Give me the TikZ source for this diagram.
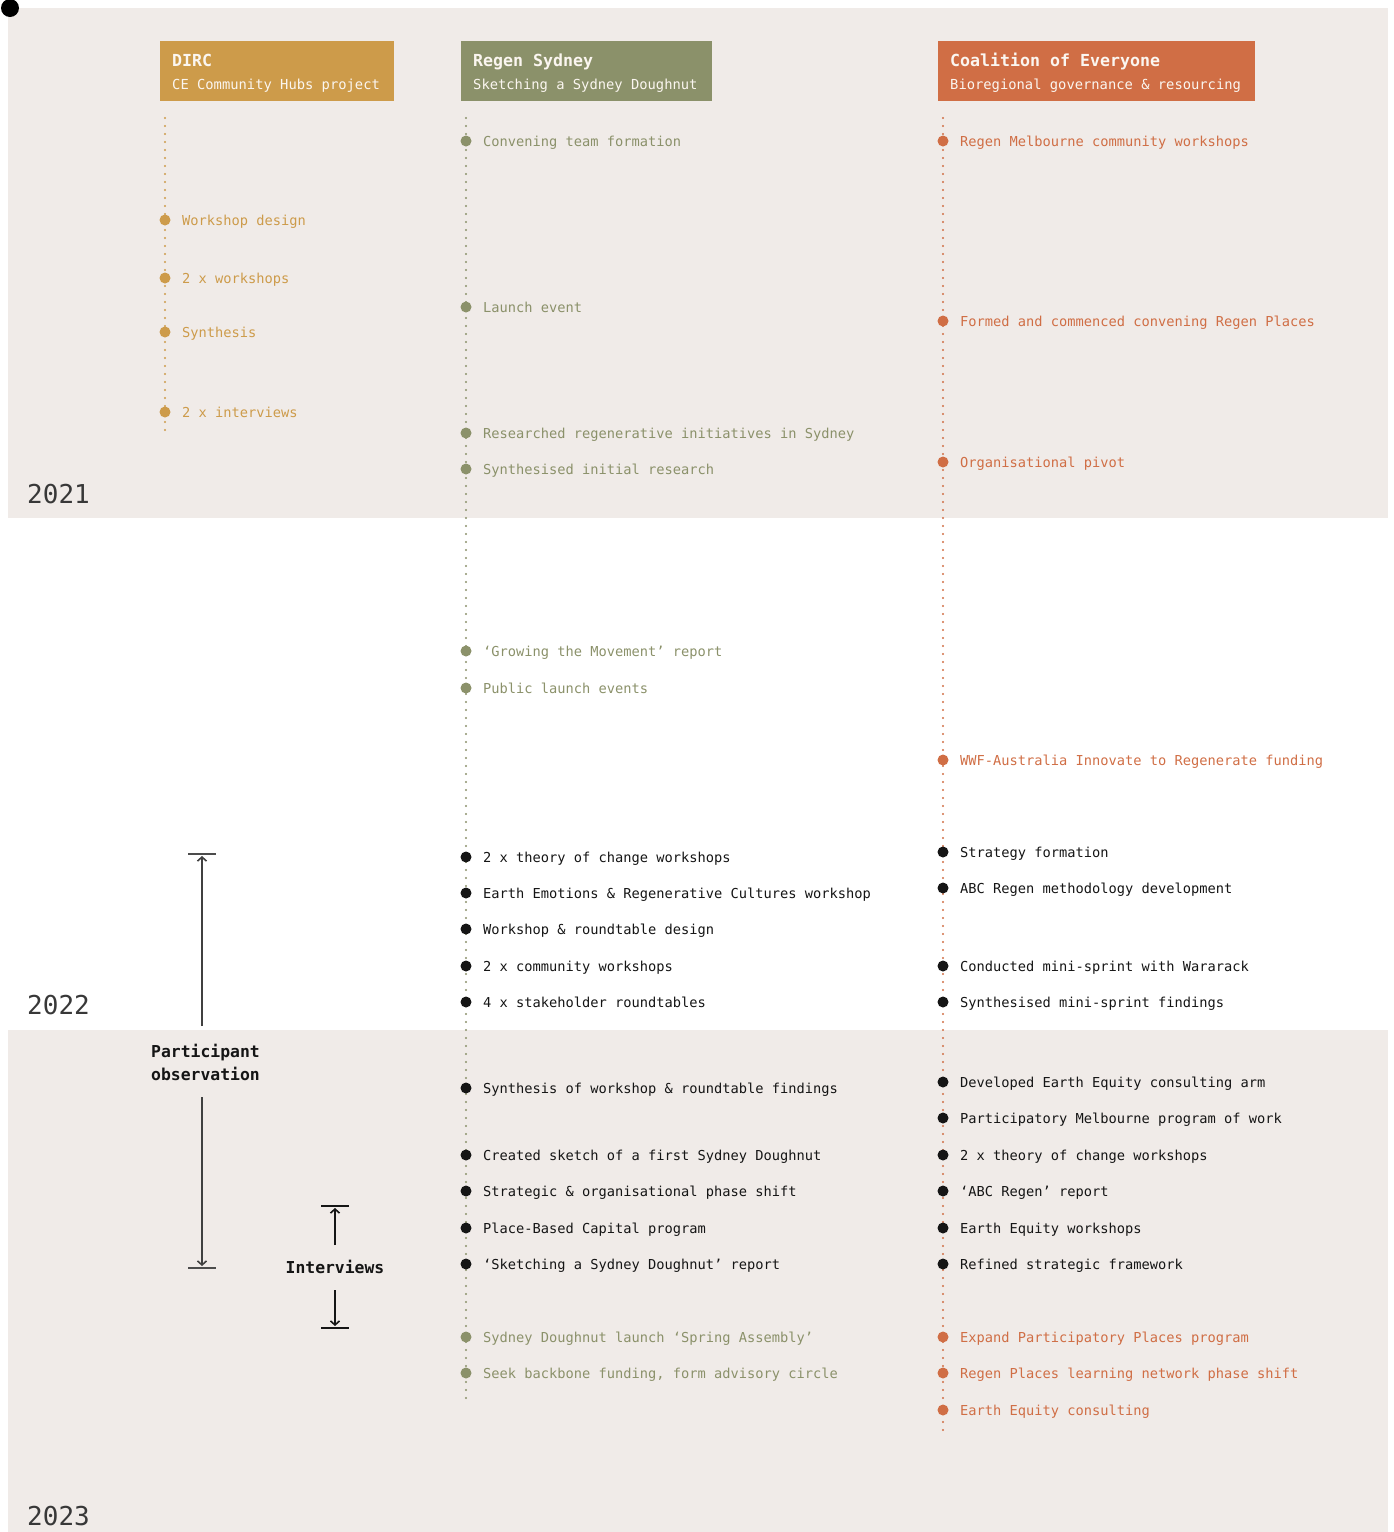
\documentclass[tikz,border=0pt]{standalone}
\usepackage{fontspec}
\setmainfont{DejaVu Sans Mono}
\setmonofont{DejaVu Sans Mono}
\usetikzlibrary{arrows.meta}

\definecolor{paper}{HTML}{F0EBE8}
\definecolor{gold}{HTML}{CD9B4A}
\definecolor{sage}{HTML}{8B916A}
\definecolor{rust}{HTML}{D06E45}
\definecolor{ink}{HTML}{151515}
\definecolor{headtext}{HTML}{FBF6F0}

\tikzset{
  headbox/.style={draw=none, inner sep=0pt, anchor=north west, minimum height=60pt},
  headtitle/.style={anchor=base west, inner sep=0pt, text=headtext, font=\fontsize{16.6}{18}\selectfont\bfseries},
  headsub/.style={anchor=base west, inner sep=0pt, text=headtext, font=\fontsize{13.8}{16}\selectfont},
  dotline/.style={line width=2.4pt, line cap=round, dash pattern=on 0pt off 8pt},
  evdot/.style={circle, inner sep=0pt, minimum size=11pt, draw=none},
  evlabel/.style={anchor=base west, inner sep=0pt, font=\fontsize{13.7}{16}\selectfont},
  yearlabel/.style={anchor=base west, inner sep=0pt, text=ink!85, font=\fontsize{26}{30}\selectfont},
  methodlabel/.style={inner sep=0pt, text=ink, align=left, font=\fontsize{16.4}{23}\selectfont\bfseries},
  bracketbar/.style={line width=1.2pt, draw=black!70},
  bracketarrow/.style={line width=1.2pt, draw=black!75, -{Straight Barb[length=4pt,width=9pt,line width=1.6pt]}},
}

\begin{document}
\begin{tikzpicture}[x=1pt,y=-1pt]
\useasboundingbox (0,0) rectangle (1394,1532);

% year bands
\fill[paper] (8,8) rectangle (1388,518);
\fill[paper] (8,1030) rectangle (1388,1532);
\fill[black] (10,8) circle (9);

% year labels
\node[yearlabel] (y2021) at (27,503) {2021};
\node[yearlabel] (y2022) at (27,1014) {2022};
\node[yearlabel] (y2023) at (27,1525) {2023};

% column headers
\node[headbox, fill=gold, minimum width=234pt] (hdirc) at (160,41) {};
\node[headtitle] (hdircT) at (172,66) {DIRC};
\node[headsub] (hdircS) at (172,89) {CE Community Hubs project};

\node[headbox, fill=sage, minimum width=251pt] (hsyd) at (461,41) {};
\node[headtitle] (hsydT) at (473,66) {Regen Sydney};
\node[headsub] (hsydS) at (473,89) {Sketching a Sydney Doughnut};

\node[headbox, fill=rust, minimum width=317pt] (hcoe) at (938,41) {};
\node[headtitle] (hcoeT) at (950,66) {Coalition of Everyone};
\node[headsub] (hcoeS) at (950,89) {Bioregional governance \& resourcing};

% timelines
\coordinate (dircTop) at (165,118);
\coordinate (dircEnd) at (165,434);
\coordinate (sydTop) at (466,118);
\coordinate (sydEnd) at (466,1398);
\coordinate (coeTop) at (943,118);
\coordinate (coeEnd) at (943,1434);
\draw[dotline, gold] (dircTop) -- (dircEnd);
\draw[dotline, sage] (sydTop) -- (sydEnd);
\draw[dotline, rust] (coeTop) -- (coeEnd);

% DIRC events
\foreach \y/\t [count=\i] in {
  220/Workshop design,
  278/2 x workshops,
  332/Synthesis,
  412/2 x interviews} {
  \node[evdot, fill=gold] (d\i) at (165,\y) {};
  \node[evlabel, text=gold] (dl\i) at (182,\y+5.5) {\t};
}

% Regen Sydney events
\foreach \y/\c/\t [count=\i] in {
  141/sage/Convening team formation,
  307/sage/Launch event,
  433/sage/Researched regenerative initiatives in Sydney,
  469/sage/Synthesised initial research,
  651/sage/‘Growing the Movement’ report,
  688/sage/Public launch events,
  857/ink/2 x theory of change workshops,
  893/ink/Earth Emotions \& Regenerative Cultures workshop,
  929/ink/Workshop \& roundtable design,
  966/ink/2 x community workshops,
  1002/ink/4 x stakeholder roundtables,
  1088/ink/Synthesis of workshop \& roundtable findings,
  1155/ink/Created sketch of a first Sydney Doughnut,
  1191/ink/Strategic \& organisational phase shift,
  1228/ink/Place-Based Capital program,
  1264/ink/‘Sketching a Sydney Doughnut’ report,
  1337/sage/Sydney Doughnut launch ‘Spring Assembly’,
  1373/sage/{Seek backbone funding, form advisory circle}} {
  \node[evdot, fill=\c] (s\i) at (466,\y) {};
  \node[evlabel, text=\c] (sl\i) at (483,\y+5.5) {\t};
}

% Coalition of Everyone events
\foreach \y/\c/\t [count=\i] in {
  141/rust/Regen Melbourne community workshops,
  321/rust/Formed and commenced convening Regen Places,
  462/rust/Organisational pivot,
  760/rust/WWF-Australia Innovate to Regenerate funding,
  852/ink/Strategy formation,
  888/ink/ABC Regen methodology development,
  966/ink/Conducted mini-sprint with Wararack,
  1002/ink/Synthesised mini-sprint findings,
  1082/ink/Developed Earth Equity consulting arm,
  1118/ink/Participatory Melbourne program of work,
  1155/ink/2 x theory of change workshops,
  1191/ink/‘ABC Regen’ report,
  1228/ink/Earth Equity workshops,
  1264/ink/Refined strategic framework,
  1337/rust/Expand Participatory Places program,
  1373/rust/Regen Places learning network phase shift,
  1410/rust/Earth Equity consulting} {
  \node[evdot, fill=\c] (c\i) at (943,\y) {};
  \node[evlabel, text=\c] (cl\i) at (960,\y+5.5) {\t};
}

% participant observation span
\node[methodlabel, anchor=north west] (po) at (151,1044) {Participant\\observation};
\coordinate (poBarTop) at (202,854);
\coordinate (poBarBot) at (202,1268);
\coordinate (poUpFrom) at (202,1026);
\coordinate (poDownFrom) at (202,1097);
\draw[bracketbar] ([xshift=-14pt]poBarTop) -- ([xshift=14pt]poBarTop);
\draw[bracketbar] ([xshift=-14pt]poBarBot) -- ([xshift=14pt]poBarBot);
\draw[bracketarrow] (poUpFrom) -- ([yshift=-2pt]poBarTop);
\draw[bracketarrow] (poDownFrom) -- ([yshift=2pt]poBarBot);

% interviews span
\node[methodlabel] (iv) at (335,1267) {Interviews};
\coordinate (ivBarTop) at (335,1206);
\coordinate (ivBarBot) at (335,1328);
\coordinate (ivUpFrom) at (335,1245);
\coordinate (ivDownFrom) at (335,1290);
\draw[bracketbar, draw=ink] ([xshift=-14pt]ivBarTop) -- ([xshift=14pt]ivBarTop);
\draw[bracketbar, draw=ink] ([xshift=-14pt]ivBarBot) -- ([xshift=14pt]ivBarBot);
\draw[bracketarrow, draw=ink] (ivUpFrom) -- ([yshift=-2pt]ivBarTop);
\draw[bracketarrow, draw=ink] (ivDownFrom) -- ([yshift=2pt]ivBarBot);
\end{tikzpicture}
\end{document}
